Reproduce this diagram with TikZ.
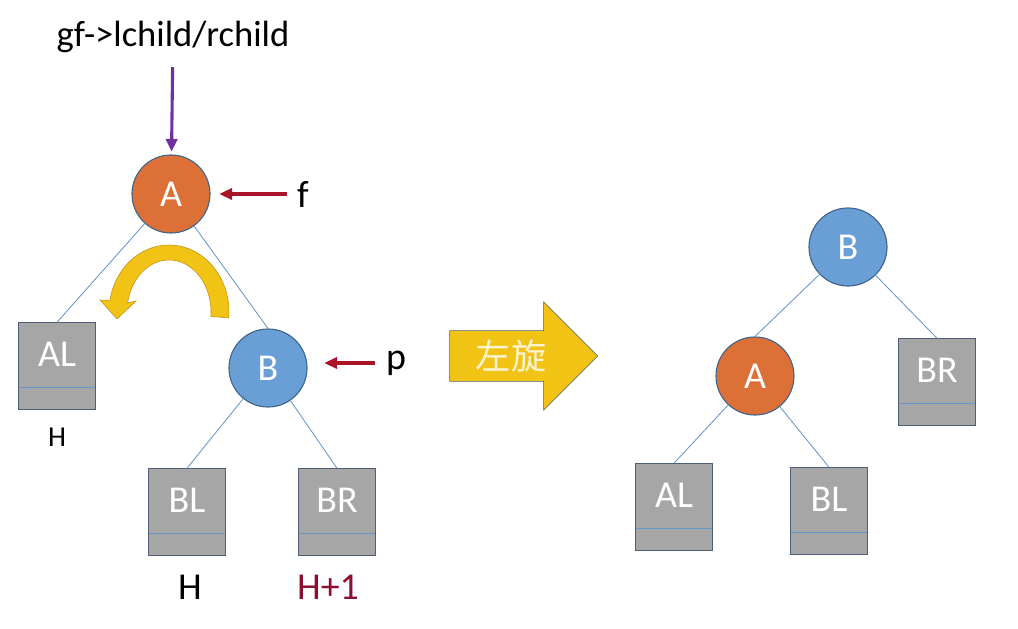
\documentclass[tikz,border=0pt]{standalone}
\usepackage{fontspec}
\setmainfont{Carlito}
\newfontfamily\cjkfont{Noto Sans CJK SC}
\usetikzlibrary{shapes.arrows, arrows.meta, positioning}

\definecolor{nodeorange}{RGB}{221,112,54}
\definecolor{nodeblue}{RGB}{106,159,213}
\definecolor{circleedge}{RGB}{65,100,140}
\definecolor{boxgrey}{RGB}{166,166,166}
\definecolor{boxedge}{RGB}{80,95,120}
\definecolor{linkblue}{RGB}{100,150,200}
\definecolor{ptrred}{RGB}{170,20,40}
\definecolor{ptrpurple}{RGB}{112,48,160}
\definecolor{hred}{RGB}{140,15,50}
\definecolor{rotgold}{RGB}{240,195,20}
\definecolor{rotdark}{RGB}{195,145,20}

\begin{document}
\begin{tikzpicture}[
    x=0.025cm, y=-0.025cm,
    >={Triangle[length=9pt,width=8pt]},
    nodeA/.style={circle, draw=circleedge, thick, fill=nodeorange, minimum size=1.95cm, inner sep=0pt, text=white, font=\fontsize{27}{30}\selectfont},
    nodeB/.style={nodeA, fill=nodeblue},
    subtree/.style={rectangle, draw=boxedge, thick, fill=boxgrey, minimum width=1.92cm, minimum height=2.16cm, inner sep=0pt, text height=0.55cm, text depth=0.55cm, text=white, font=\fontsize{27}{30}\selectfont,
        path picture={\draw[linkblue, thick] ([yshift=0.55cm]path picture bounding box.south west) -- ([yshift=0.55cm]path picture bounding box.south east);}},
    link/.style={draw=linkblue, semithick},
    ptr/.style={->, line width=2.2pt, draw=ptrred},
    ptrlabel/.style={inner sep=0pt, font=\fontsize{27}{30}\selectfont},
    hlabel/.style={inner sep=0pt, font=\fontsize{27}{30}\selectfont},
    rotarrow/.style={single arrow, draw=boxedge, fill=rotgold, minimum width=2.7cm, minimum height=3.7cm, single arrow head extend=0.69cm, inner xsep=0pt, inner ysep=0.2cm, text=white!80!rotgold, font=\cjkfont\fontsize{25}{28}\selectfont}
]
\useasboundingbox (0,0) rectangle (1018,629);

% TRUOC KHI QUAY
\node[font=\fontsize{26}{30}\selectfont, inner sep=0pt] (gf) at (173,37) {gf->lchild/rchild};
\node[nodeA] (A) at (171,194) {A};
\node[nodeB] (B) at (268,368) {B};
\node[subtree] (AL) at (57,366) {AL};
\node[subtree] (BL) at (187,512) {BL};
\node[subtree] (BR) at (337,512) {BR};
\node[ptrlabel] (f) at (303,194) {f};
\node[ptrlabel] (p) at (396,363) {p};
\node[hlabel, font=\fontsize{20.5}{24}\selectfont] (hAL) at (57,437) {H};
\node[hlabel] (hBL) at (190,587) {H};
\node[hlabel, text=hred] (hBR) at (328,587) {H+1};

\draw[link] (A) -- (AL.north);
\draw[link] (A) -- (B.north);
\draw[link] (B) -- (BL.north);
\draw[link] (B) -- (BR.north);

\draw[->, line width=2.2pt, draw=ptrpurple, shorten <=0.35cm, shorten >=0.07cm] (gf) -- (A);
\draw[ptr, shorten <=0.25cm, shorten >=0.22cm] (f) -- (f -| A.east);
\draw[ptr, shorten <=0.28cm, shorten >=0.42cm] (p) -- (p -| B.east);

% mui ten cong
\fill[rotgold, draw=rotdark]
    plot[domain=-5:170, samples=40, variable=\t] ({169+60*cos(\t)}, {312-67*sin(\t)})
    -- (100,300) -- (117,319) -- (136,301)
    -- plot[domain=170:-5, samples=40, variable=\t] ({169+42*cos(\t)}, {312-52*sin(\t)})
    -- cycle;

% MUI TEN LON
\node[rotarrow] (rot) at (511,356) {左旋};

% SAU KHI QUAY
\node[nodeB] (B2) at (848,247) {B};
\node[nodeA] (A2) at (755,376) {A};
\node[subtree] (BR2) at (937,382) {BR};
\node[subtree] (AL2) at (674,507) {AL};
\node[subtree] (BL2) at (829,511) {BL};

\draw[link] (B2) -- (A2.north);
\draw[link] (B2) -- (BR2.north);
\draw[link] (A2) -- (AL2.north);
\draw[link] (A2) -- (BL2.north);

\end{tikzpicture}
\end{document}
